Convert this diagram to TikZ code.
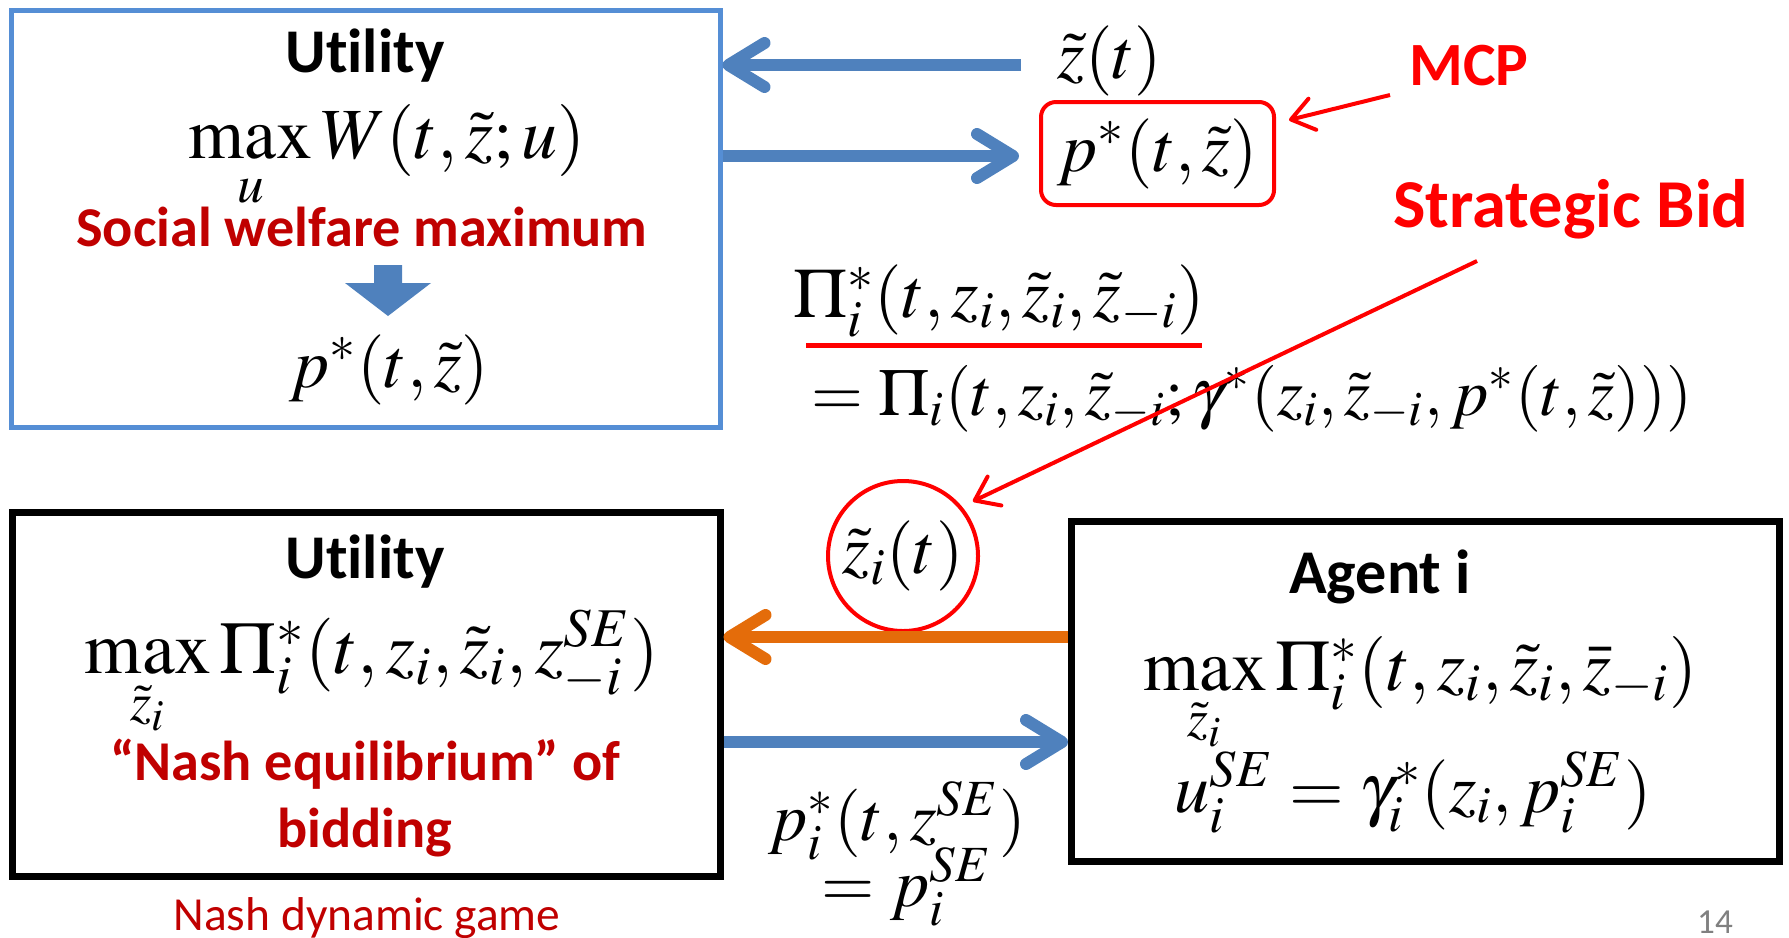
\documentclass[tikz,border=0pt]{standalone}
\usepackage{mathptmx}
\usepackage[no-math]{fontspec}
\setmainfont{Carlito}[Ligatures=NoCommon]
\usetikzlibrary{arrows.meta,calc}
\definecolor{boxblue}{HTML}{558ED5}
\definecolor{flowblue}{HTML}{4F81BD}
\definecolor{bidorange}{HTML}{E46C0A}
\definecolor{noteRed}{HTML}{C00000}
\tikzset{
    game diagram/.style = {x=0.1mm, y=-0.1mm},
    frame/.style        = {draw, line width=0.7mm,
                           minimum width=70.8mm, minimum height=36.4mm},
    title/.style        = {font=\fontsize{17.7}{20}\selectfont\bfseries,
                           anchor=base, inner sep=0pt},
    note/.style         = {font=\fontsize{16}{18}\selectfont\bfseries,
                           text=noteRed, anchor=base, inner sep=0pt},
    eq/.style           = {font=\fontsize{20}{24}\selectfont,
                           anchor=base, inner sep=0pt},
    flow/.style         = {line width=1.2mm,
                           -{Straight Barb[length=3.6mm, width=4.4mm, round]}},
    callout/.style      = {red, line width=0.4mm,
                           -{Straight Barb[length=2.2mm, width=3.2mm, round]}},
    underline/.style    = {red, line width=0.5mm}
}

\begin{document}
\begin{tikzpicture}[game diagram]
\useasboundingbox (0,0) rectangle (1789,937);

% ================= Upper utility (market clearing) =================
\node[frame, draw=boxblue, line width=0.5mm,
      minimum width=70.9mm, minimum height=41.7mm] (util) at (365.5,219) {};
\node[title] (utilT) at (365,72) {Utility};
\node[eq, font=\fontsize{20.5}{24}\selectfont] (welfare) at (387,158)
    {$\max\limits_{u} W(t,\tilde z;u)$};
\node[note] (swm) at (362,246) {Social welfare maximum};
\fill[flowblue] (374,265) -- (402,265) -- (402,283) -- (431,283)
    -- (388,316) -- (345,283) -- (374,283) -- cycle;
\node[eq] (price) at (389,387) {$p^{*}(t,\tilde z)$};

% ================= Bids in, clearing price out =================
\node[eq] (zbid) at (1110,78) {$\tilde z(t)$};
\coordinate (zin) at (1021,65);
\draw[flow, flowblue] (zin) -- (zin -| util.east);

\node[draw=red, line width=0.4mm, rounded corners=1.5mm,
      minimum width=23.3mm, minimum height=10.3mm,
      font=\fontsize{20}{24}\selectfont] (mcp) at (1157.5,153.5) {$p^{*}(t,\tilde z)$};
\draw[flow, flowblue] (util.east |- 0,156) -- (1019,156);

\node[font=\fontsize{17.5}{20}\selectfont\bfseries, text=red, anchor=base,
      inner sep=0pt] (mcpT) at (1469,85) {MCP};
\coordinate (mcptail) at (1390,95);
\draw[callout] (mcptail) -- ([shift={(13,20)}]mcp.north east);

% ================= Strategic bid =================
\node[font=\fontsize{19.5}{22}\selectfont\bfseries, text=red, anchor=base,
      inner sep=0pt] (sbT) at (1571,227) {Strategic Bid};
\node[eq] (profit) at (999,317) {$\Pi_i^{*}(t,z_i,\tilde z_i,\tilde z_{-i})$};
\draw[underline] ($(profit.south west)+(14,8)$) -- ($(profit.south east)+(-4,8)$);
\node[eq, font=\fontsize{19}{23}\selectfont, anchor=base west] (profitEq) at (811,415)
    {$=\Pi_i(t,z_i,\tilde z_{-i};\gamma^{*}(z_i,\tilde z_{-i},p^{*}(t,\tilde z)))$};

\node[circle, draw=red, line width=0.4mm, minimum size=15mm, inner sep=0pt,
      font=\fontsize{20}{24}\selectfont] (bid) at (903,556) {$\tilde z_i(t)$};
\coordinate (sbtail) at (1477,261);
\draw[callout, shorten >=1.2mm] (sbtail) -- (bid.40);

% ================= Lower utility (Nash game) =================
\node[frame] (util2) at (366,694) {};
\node[title] (util2T) at (365,578) {Utility};
\node[eq, font=\fontsize{21}{25}\selectfont] (nashmax) at (372,673)
    {$\max\limits_{\tilde z_i}\Pi_i^{*}(t,z_i,\tilde z_i,z_{-i}^{SE})$};
\node[note] (nash1) at (365,780) {“Nash equilibrium” of};
\node[note] (nash2) at (365,847) {bidding};
\node[font=\fontsize{13.5}{16}\selectfont, text=noteRed, anchor=base,
      inner sep=0pt] (game) at (367,930) {Nash dynamic game};

% ================= Agent i =================
\node[frame, minimum height=34mm] (agent) at (1425.5,691.5) {};
\node[title] (agentT) at (1380,593) {Agent i};
\node[eq, font=\fontsize{20.5}{24}\selectfont] (agentmax) at (1420,690)
    {$\max\limits_{\tilde z_i}\Pi_i^{*}(t,z_i,\tilde z_i,\bar z_{-i})$};
\node[eq] (agentu) at (1413,812) {$u_i^{SE}=\gamma_i^{*}(z_i,p_i^{SE})$};

\coordinate (bidout) at (agent.west |- 0,637);
\draw[flow, bidorange] (bidout) -- (bidout -| util2.east);
\coordinate (priceout) at (util2.east |- 0,742);
\draw[flow, flowblue] (priceout) -- (priceout -| agent.west);

\node[eq, font=\fontsize{19.5}{23}\selectfont] (pse) at (897,840) {$p_i^{*}(t,z^{SE})$};
\node[eq, font=\fontsize{19.5}{23}\selectfont] (pseq) at (907,906) {$=p_i^{SE}$};

\node[font=\fontsize{10}{12}\selectfont, text=gray, anchor=base,
      inner sep=0pt] (page) at (1715,933) {14};

\end{tikzpicture}
\end{document}
